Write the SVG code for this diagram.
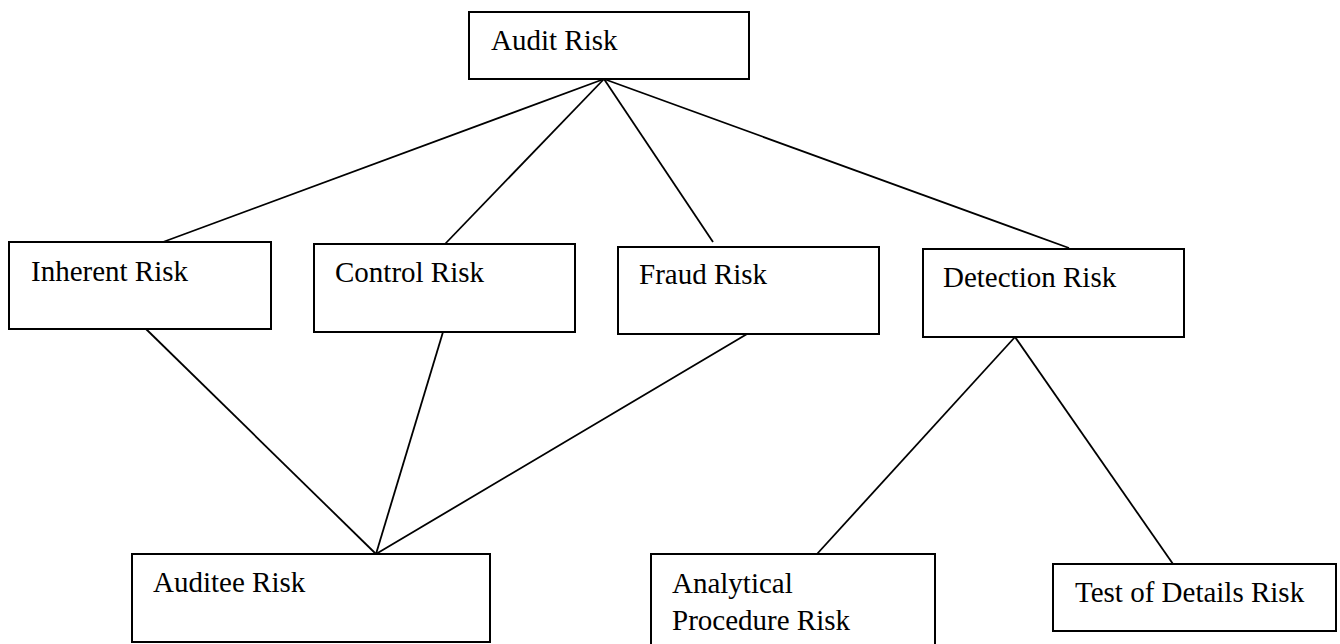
<svg xmlns="http://www.w3.org/2000/svg" width="1340" height="644" viewBox="0 0 1340 644">
<style>
.box{fill:#fff;stroke:#000;stroke-width:2}
.lbl{font-family:"Liberation Serif","Times New Roman",serif;font-size:29px;fill:#000}
.edge{stroke:#000;stroke-width:1.8;fill:none}
</style>
<rect width="1340" height="644" fill="#fff"/>
<g id="connectors">
<line class="edge" x1="604" y1="79" x2="163" y2="242"/>
<line class="edge" x1="604" y1="79" x2="445" y2="244"/>
<line class="edge" x1="604" y1="79" x2="713" y2="242"/>
<line class="edge" x1="604" y1="79" x2="1069" y2="248"/>
<line class="edge" x1="146" y1="329" x2="376" y2="554"/>
<line class="edge" x1="443" y1="332" x2="376" y2="554"/>
<line class="edge" x1="747" y1="334" x2="376" y2="554"/>
<line class="edge" x1="1015" y1="337" x2="817" y2="554"/>
<line class="edge" x1="1015" y1="337" x2="1173" y2="564"/>
</g>
<g id="audit-risk"><rect class="box" x="469" y="12" width="280" height="67"/><text class="lbl" x="491" y="50">Audit Risk</text></g>
<g id="inherent-risk"><rect class="box" x="9" y="242" width="262" height="87"/><text class="lbl" x="31" y="281">Inherent Risk</text></g>
<g id="control-risk"><rect class="box" x="314" y="244" width="261" height="88"/><text class="lbl" x="335" y="282">Control Risk</text></g>
<g id="fraud-risk"><rect class="box" x="618" y="247" width="261" height="87"/><text class="lbl" x="639" y="284">Fraud Risk</text></g>
<g id="detection-risk"><rect class="box" x="923" y="249" width="261" height="88"/><text class="lbl" x="943" y="287">Detection Risk</text></g>
<g id="auditee-risk"><rect class="box" x="132" y="554" width="358" height="88"/><text class="lbl" x="153" y="592">Auditee Risk</text></g>
<g id="analytical-procedure-risk"><rect class="box" x="651" y="554" width="284" height="96"/><text class="lbl" x="672" y="593">Analytical</text><text class="lbl" x="672" y="630">Procedure Risk</text></g>
<g id="test-of-details-risk"><rect class="box" x="1053" y="564" width="283" height="67"/><text class="lbl" x="1075" y="602">Test of Details Risk</text></g>
</svg>
